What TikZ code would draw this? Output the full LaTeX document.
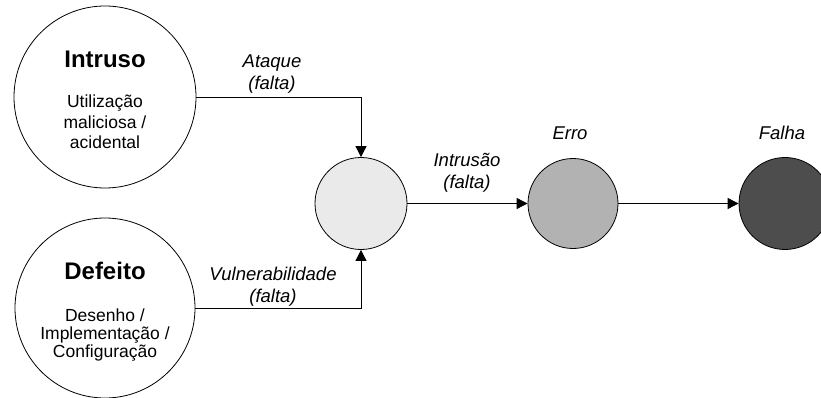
\documentclass[tikz,border=0pt]{standalone}
\usepackage{fontspec}
\setmainfont{Liberation Sans}
\usepackage{tikz}
\usetikzlibrary{positioning, arrows.meta}
\usepackage{xcolor}
\definecolor{cinzaclaro}{HTML}{EAEAEA}
\definecolor{cinzamedio}{HTML}{B2B2B2}
\definecolor{cinzaescuro}{HTML}{4D4D4D}

\begin{document}
\begin{tikzpicture}[x=1pt, y=-1pt, line width=0.8pt,
        bola/.style={circle, draw=black, inner sep=0pt},
        seta/.style={-{Triangle[length=11pt, width=11pt]}},
        rotulo/.style={font=\fontsize{18.5}{22}\selectfont\itshape, align=center, inner sep=0pt},
        titulo/.style={font=\fontsize{24}{26}\selectfont\bfseries, inner sep=0pt},
        texto/.style={align=center, inner sep=0pt}]
            \useasboundingbox (0,0) rectangle (821,398);
            \node [bola, minimum size=182pt] (intruso) at (105,97) {};
            \node [bola, minimum size=180pt] (defeito) at (105,308) {};
            \node [bola, fill=cinzaclaro, minimum size=92pt] (intrusao) at (361,203.5) {};
            \node [bola, fill=cinzamedio, minimum size=90pt] (erro) at (573,203.5) {};
            \node [bola, fill=cinzaescuro, minimum size=92pt] (falha) at (785,203.5) {};
            \node [titulo] (tintruso) at (105,59) {Intruso};
            \node [titulo] (tdefeito) at (105,271) {Defeito};
            \node [texto, font=\fontsize{17.5}{20.5}\selectfont] (uso) at (105,122) {Utilização\\maliciosa /\\acidental};
            \node [texto, font=\fontsize{17.5}{18}\selectfont] (origem) at (105,335) {Desenho /\\Implementação /\\Configuração};
            \draw [seta] (intruso.east) -| (intrusao.north);
            \draw [seta] (defeito.east) -| (intrusao.south);
            \draw [seta] (intrusao.east) -- (erro.west);
            \draw [seta] (erro.east) -- (falha.west);
            \node [rotulo] (ataque) at (272,74) {Ataque\\(falta)};
            \node [rotulo] (vulnerabilidade) at (273,287) {Vulnerabilidade\\(falta)};
            \node [rotulo] (tintrusao) at (467,173) {Intrusão\\(falta)};
            \node [rotulo] (terro) at (570,133) {Erro};
            \node [rotulo] (tfalha) at (782,133) {Falha};
        \end{tikzpicture}
\end{document}
